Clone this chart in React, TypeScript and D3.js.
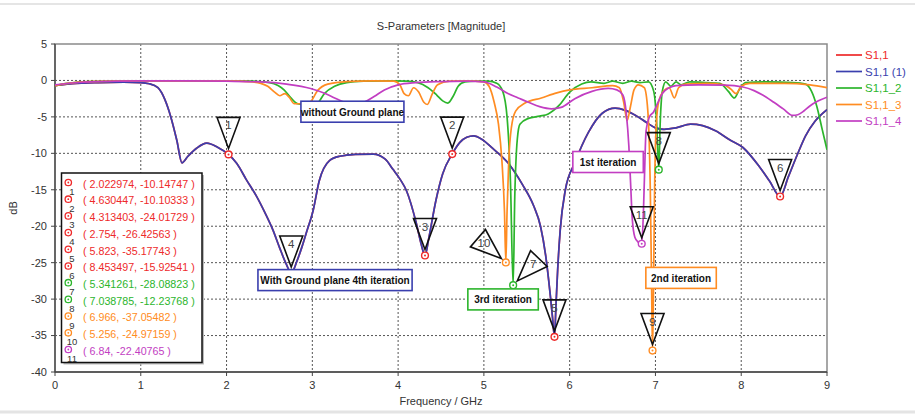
import * as d3 from "d3";

const width = 915;
const height = 415;
const marginLeft = 55;
const marginRight = 88;
const marginTop = 44;
const marginBottom = 43;

const xTicks = [0, 1, 2, 3, 4, 5, 6, 7, 8, 9];
const yTicks = [5, 0, -5, -10, -15, -20, -25, -30, -35, -40];

const seriesNames = ["S1,1", "S1,1 (1)", "S1,1_2", "S1,1_3", "S1,1_4"];
const seriesColors = ["#ee2a2a", "#3a3fae", "#2cb52c", "#ff8c22", "#c23ec2"];

// S1,1 (1) - with ground plane, 4th iteration
const s11_1: [number, number][] = [
  [0, -0.7], [0.2, -0.45], [0.5, -0.3], [0.8, -0.25], [1.0, -0.3], [1.1, -0.45],
  [1.2, -1.0], [1.28, -2.6], [1.35, -5.0], [1.42, -8.2], [1.48, -11.3], [1.55, -10.4],
  [1.65, -9.3], [1.77, -8.6], [1.9, -9.2], [2.023, -10.15], [2.12, -11.4], [2.23, -13.6],
  [2.35, -15.9], [2.45, -18.2], [2.54, -20.5], [2.62, -23], [2.7, -25.3], [2.754, -26.43],
  [2.82, -24.8], [2.88, -22.8], [2.93, -20.9], [3.01, -17.8], [3.08, -13.8], [3.2, -11.0],
  [3.32, -10.4], [3.5, -10.15], [3.71, -10.1], [3.85, -10.8], [3.94, -12.2], [4.02, -13.5],
  [4.1, -15.2], [4.21, -19.5], [4.27, -22.5], [4.313, -24.02], [4.36, -21.5], [4.44, -16.5],
  [4.52, -12.8], [4.63, -10.1], [4.72, -8.5], [4.8, -7.8], [4.88, -7.6], [4.98, -8.1],
  [5.1, -9.3], [5.28, -11.3], [5.45, -14.3], [5.58, -17.2], [5.66, -20.0], [5.72, -24.0],
  [5.77, -29.0], [5.8, -32.5], [5.823, -35.18], [5.84, -31.0], [5.86, -26.0], [5.89, -20.5],
  [5.95, -15.0], [6.06, -11.3], [6.22, -7.1], [6.38, -4.5], [6.53, -3.8], [6.65, -4.1],
  [6.77, -4.8], [6.9, -5.8], [7.0, -6.5], [7.1, -6.7], [7.24, -6.5], [7.41, -6.0],
  [7.55, -6.2], [7.7, -6.9], [7.86, -8.1], [8.02, -9.2], [8.21, -11.8], [8.33, -13.8],
  [8.4535, -15.93], [8.55, -13.2], [8.65, -10.3], [8.75, -7.6], [8.86, -5.6], [9.0, -4.0],
];

// S1,1 lies under S1,1 (1) (same trace, markers 1-6)
const s11: [number, number][] = s11_1;

// S1,1_2 - 3rd iteration
const s11_2: [number, number][] = [
  [0, -0.7], [0.15, -0.4], [0.4, -0.15], [1.0, -0.05], [1.5, -0.05], [2.0, -0.05],
  [2.3, -0.1], [2.5, -0.3], [2.6, -0.7], [2.67, -1.3], [2.75, -2.4], [2.83, -3.2],
  [2.94, -3.4], [3.06, -3.1], [3.14, -1.8], [3.26, -0.8], [3.4, -0.3], [3.6, -0.1],
  [3.9, -0.05], [4.1, -0.1], [4.23, -0.3], [4.35, -1.0], [4.45, -2.0], [4.52, -2.8],
  [4.58, -3.1], [4.64, -2.2], [4.7, -0.8], [4.78, -0.2], [4.9, -0.1], [5.05, -0.1],
  [5.15, -0.4], [5.22, -1.5], [5.27, -5], [5.31, -14], [5.341, -28.09], [5.36, -16],
  [5.39, -8], [5.42, -6.0], [5.52, -5.2], [5.65, -4.9], [5.75, -4.6], [5.87, -3.5],
  [6.0, -1.6], [6.14, -0.5], [6.25, -0.2], [6.4, -0.4], [6.5, -0.1], [6.62, -0.4],
  [6.72, -0.1], [6.82, -0.3], [6.92, -0.2], [6.98, -1.5], [7.015, -6], [7.0388, -12.24],
  [7.055, -6], [7.08, -1.5], [7.12, -0.2], [7.18, -0.8], [7.24, -0.2], [7.3, -0.6],
  [7.4, -0.2], [7.6, -0.3], [7.75, -0.4], [7.85, -1.5], [7.92, -2.4], [7.98, -1.2],
  [8.05, -0.3], [8.3, -0.2], [8.6, -0.3], [8.75, -0.5], [8.82, -1.5], [8.88, -3.5],
  [8.94, -6.5], [9.0, -9.5],
];

// S1,1_3 - 2nd iteration
const s11_3: [number, number][] = [
  [0, -0.7], [0.15, -0.4], [0.4, -0.15], [1.0, -0.05], [2.0, -0.05], [2.3, -0.2],
  [2.4, -0.4], [2.48, -0.8], [2.56, -1.6], [2.62, -2.1], [2.68, -1.8], [2.73, -2.3],
  [2.79, -3.2], [2.9, -3.2], [2.98, -2.9], [3.06, -1.4], [3.18, -0.5], [3.4, -0.15],
  [3.7, -0.05], [3.95, -0.1], [4.02, -0.6], [4.07, -1.8], [4.12, -2.1], [4.18, -1.0],
  [4.24, -1.6], [4.3, -3.0], [4.34, -3.3], [4.4, -1.8], [4.46, -0.6], [4.6, -0.1],
  [4.8, -0.05], [5.0, -0.2], [5.06, -0.8], [5.12, -3.0], [5.17, -6.0], [5.21, -11],
  [5.24, -18], [5.256, -24.97], [5.27, -18], [5.29, -11], [5.32, -6.5], [5.37, -4.2],
  [5.48, -3.1], [5.67, -2.4], [5.85, -1.7], [6.0, -1.3], [6.26, -1.0], [6.5, -0.7],
  [6.58, -1.0], [6.63, -3.0], [6.67, -5.5], [6.71, -3.5], [6.75, -1.3], [6.8, -0.6],
  [6.87, -1.0], [6.91, -4], [6.94, -15], [6.955, -28], [6.966, -37.05], [6.978, -28],
  [6.99, -15], [7.01, -6], [7.04, -2.8], [7.1, -1.4], [7.16, -1.0], [7.22, -2.4],
  [7.27, -1.0], [7.35, -0.5], [7.6, -0.4], [7.8, -0.6], [7.88, -1.2], [7.94, -1.8],
  [8.0, -0.8], [8.1, -0.4], [8.5, -0.4], [8.8, -0.6], [9.0, -1.0],
];

// S1,1_4 - 1st iteration
const s11_4: [number, number][] = [
  [0, -0.6], [0.2, -0.35], [0.5, -0.15], [1.0, -0.05], [1.5, -0.05], [2.0, -0.1],
  [2.4, -0.2], [2.7, -0.5], [2.98, -1.1], [3.15, -1.8], [3.26, -2.4], [3.38, -3.0],
  [3.5, -3.2], [3.6, -3.0], [3.72, -2.2], [3.84, -1.3], [4.0, -0.6], [4.2, -0.3],
  [4.5, -0.15], [4.8, -0.1], [5.0, -0.2], [5.15, -0.9], [5.28, -1.8], [5.4, -2.4],
  [5.52, -3.0], [5.65, -3.6], [5.79, -3.9], [5.9, -3.7], [6.06, -2.5], [6.26, -1.5],
  [6.45, -1.1], [6.55, -1.3], [6.62, -2.0], [6.66, -4.5], [6.69, -9], [6.71, -14],
  [6.73, -19], [6.76, -21.5], [6.8, -22.2], [6.84, -22.41], [6.86, -18], [6.875, -12],
  [6.89, -7], [6.93, -5], [6.98, -4.3], [7.03, -3.0], [7.08, -1.8], [7.16, -1.0],
  [7.24, -0.7], [7.5, -0.6], [7.8, -0.65], [8.02, -0.9], [8.15, -1.4], [8.25, -2.0],
  [8.38, -3.0], [8.49, -3.9], [8.6, -4.8], [8.66, -4.7], [8.73, -4.2], [8.8, -3.5],
  [8.9, -2.8], [9.0, -2.3],
];

const seriesData = [s11, s11_1, s11_2, s11_3, s11_4];

// markers: id, series index, frequency, value
const markerIds = [1, 2, 3, 4, 5, 6, 7, 8, 9, 10, 11];
const markerSeries = [0, 0, 0, 0, 0, 0, 2, 2, 3, 3, 4];
const markerFreq = [2.022974, 4.630447, 4.313403, 2.754, 5.823, 8.453497, 5.341261, 7.038785, 6.966, 5.256, 6.84];
const markerValue = [-10.14747, -10.10333, -24.01729, -26.42563, -35.17743, -15.92541, -28.08823, -12.23768, -37.05482, -24.97159, -22.40765];
const markerLabel = [
  "( 2.022974, -10.14747 )", "( 4.630447, -10.10333 )", "( 4.313403, -24.01729 )",
  "( 2.754, -26.42563 )", "( 5.823, -35.17743 )", "( 8.453497, -15.92541 )",
  "( 5.341261, -28.08823 )", "( 7.038785, -12.23768 )", "( 6.966, -37.05482 )",
  "( 5.256, -24.97159 )", "( 6.84, -22.40765 )",
];
// tag direction (degrees) of the numbered triangle
const markerAngle = [0, 0, 0, 0, 0, 0, 44, 0, 0, -49, 0];

// text notes: label, series colour index, left freq, top dB
const noteText = ["without Ground plane", "With Ground plane 4th iteration", "3rd iteration", "1st iteration", "2nd iteration"];
const noteColor = [1, 1, 2, 4, 3];
const noteFreq = [2.867, 2.366, 4.813, 6.037, 6.888];
const noteDb = [-2.85, -25.95, -28.6, -9.75, -25.65];

const font = "'Liberation Sans', Arial, sans-serif";

export default function App() {
  const x = d3.scaleLinear().domain([0, 9]).range([marginLeft, width - marginRight]);
  const y = d3.scaleLinear().domain([-40, 5]).range([height - marginBottom, marginTop]);
  const line = d3
    .line<[number, number]>()
    .x((d) => x(d[0]))
    .y((d) => y(d[1]))
    .curve(d3.curveMonotoneX);

  const innerW = x(9) - x(0);
  const innerH = y(-40) - y(5);

  return (
    <svg
      width={width}
      height={height}
      style={{ position: "absolute", left: 0, top: 0, background: "#fff" }}
      fontFamily={font}
    >
      <defs>
        <clipPath id="plot">
          <rect x={x(0)} y={y(5)} width={innerW} height={innerH} />
        </clipPath>
      </defs>

      {/* page edges */}
      <line x1={0} x2={width} y1={4} y2={4} stroke="#dcdcdc" strokeWidth={1.5} />
      <line x1={0} x2={width} y1={412} y2={412} stroke="#e4e4e4" strokeWidth={3} />

      <text x={(x(0) + x(9)) / 2} y={30} textAnchor="middle" fontSize={11} fill="#333">
        S-Parameters [Magnitude]
      </text>

      {/* grid */}
      {xTicks.slice(1, -1).map((t) => (
        <line key={"gx" + t} x1={x(t)} x2={x(t)} y1={y(5)} y2={y(-40)} stroke="#555" strokeDasharray="2,2" />
      ))}
      {yTicks.slice(1, -1).map((t) => (
        <line key={"gy" + t} x1={x(0)} x2={x(9)} y1={y(t)} y2={y(t)} stroke="#555" strokeDasharray="2,2" />
      ))}

      {/* frame and axes */}
      <rect x={x(0)} y={y(5)} width={innerW} height={innerH} fill="none" stroke="#8a8a8a" strokeWidth={1.5} />
      <line x1={x(0)} x2={x(0)} y1={y(5)} y2={y(-40)} stroke="#444" strokeWidth={1.3} />
      <line x1={x(0)} x2={x(9)} y1={y(-40)} y2={y(-40)} stroke="#444" strokeWidth={1.3} />

      {yTicks.map((t) => (
        <g key={"yt" + t} transform={`translate(${x(0)}, ${y(t)})`}>
          <line x2={-4} stroke="#444" />
          <text x={-8} dy="0.35em" textAnchor="end" fontSize={11} fill="#333">
            {t}
          </text>
        </g>
      ))}
      {xTicks.map((t) => (
        <g key={"xt" + t} transform={`translate(${x(t)}, ${y(-40)})`}>
          <line y2={4} stroke="#444" />
          <text y={17} textAnchor="middle" fontSize={11} fill="#333">
            {t}
          </text>
        </g>
      ))}
      <text x={(x(0) + x(9)) / 2} y={405} textAnchor="middle" fontSize={11} fill="#333">
        Frequency / GHz
      </text>
      <text transform={`translate(17, ${(y(5) + y(-40)) / 2}) rotate(-90)`} textAnchor="middle" fontSize={11} fill="#333">
        dB
      </text>

      {/* curves */}
      <g clipPath="url(#plot)">
        {seriesData.map((d, i) => (
          <path key={seriesNames[i]} d={line(d) ?? ""} fill="none" stroke={seriesColors[i]} strokeWidth={1.7} strokeLinejoin="round" />
        ))}
      </g>

      {/* marker points */}
      {markerIds.map((id, i) => (
        <g key={"m" + id} transform={`translate(${x(markerFreq[i])}, ${y(markerValue[i])})`}>
          <circle r={3.4} fill="#fff" stroke={seriesColors[markerSeries[i]]} strokeWidth={1.4} />
          <circle r={1} fill={seriesColors[markerSeries[i]]} />
        </g>
      ))}

      {/* text notes */}
      {noteText.map((t, i) => {
        const w = t.length * 4.65 + 10;
        return (
          <g key={t} transform={`translate(${x(noteFreq[i])}, ${y(noteDb[i])})`}>
            <rect width={w} height={21} fill="#fff" stroke={seriesColors[noteColor[i]]} strokeWidth={1.6} />
            <text x={w / 2} y={14.5} textAnchor="middle" fontSize={10} fontWeight="bold" fill="#111">
              {t}
            </text>
          </g>
        );
      })}

      {/* numbered tags */}
      {markerIds.map((id, i) => (
        <g
          key={"tag" + id}
          transform={`translate(${x(markerFreq[i])}, ${y(markerValue[i])}) rotate(${markerAngle[i]})`}
        >
          <polygon points="0,-6 -11.5,-37 11.5,-37" fill="none" stroke="#111" strokeWidth={1.6} strokeLinejoin="miter" />
          <text
            transform={`translate(0, -29) rotate(${-markerAngle[i]})`}
            dy="0.35em"
            textAnchor="middle"
            fontSize={11.5}
            fill="#444"
          >
            {id}
          </text>
        </g>
      ))}

      {/* marker list */}
      <rect x={63.5} y={175} width={140.5} height={189.5} fill="#bbb" />
      <rect x={61.5} y={173} width={140.5} height={189.5} fill="#fff" stroke="#111" strokeWidth={1.5} />
      {markerIds.map((id, i) => {
        const cy = 184 + i * 16.7;
        const c = seriesColors[markerSeries[i]];
        return (
          <g key={"row" + id}>
            <circle cx={68.3} cy={cy - 1.5} r={3.2} fill="#fff" stroke={c} strokeWidth={1.3} />
            <circle cx={68.3} cy={cy - 1.5} r={0.9} fill={c} />
            <text x={72} y={cy + 11} textAnchor="middle" fontSize={9.5} fill="#333">
              {id}
            </text>
            <text x={83} y={cy} dy="0.35em" fontSize={10.7} fill={c}>
              {markerLabel[i]}
            </text>
          </g>
        );
      })}

      {/* legend */}
      {seriesNames.map((n, i) => (
        <g key={"lg" + n} transform={`translate(836, ${55 + i * 16.5})`}>
          <line x2={26} stroke={seriesColors[i]} strokeWidth={1.7} />
          <text x={29} dy="0.35em" fontSize={11.5} fill={seriesColors[i]}>
            {n}
          </text>
        </g>
      ))}
    </svg>
  );
}
